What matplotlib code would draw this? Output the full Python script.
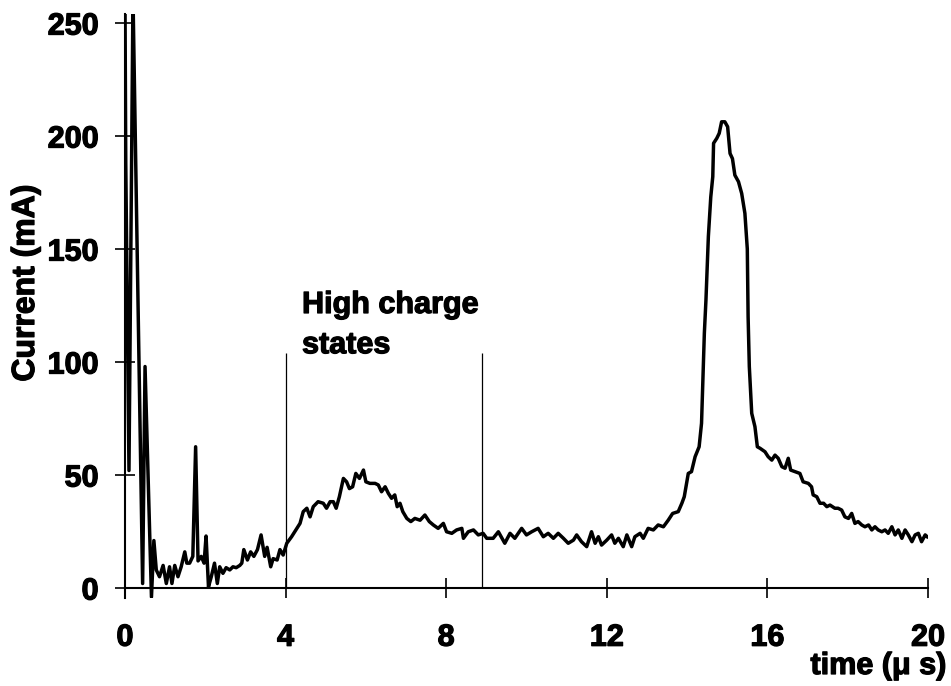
import matplotlib.pyplot as plt
import matplotlib.patheffects as pe

# trace: time in microseconds, current in mA
time_us = [0.00, 0.02, 0.10, 0.20, 0.44, 0.50, 0.66, 0.72, 0.78, 0.86, 0.95, 1.03,
           1.11, 1.17, 1.24, 1.32, 1.40, 1.49, 1.54, 1.61, 1.69, 1.76, 1.82, 1.90,
           1.97, 2.02, 2.08, 2.15, 2.23, 2.30, 2.36, 2.44, 2.52, 2.61, 2.69, 2.77,
           2.86, 2.91, 2.96, 3.05, 3.13, 3.21, 3.30, 3.39, 3.48, 3.54, 3.63, 3.69,
           3.79, 3.86, 3.94, 4.03, 4.15, 4.28, 4.36, 4.44, 4.53, 4.61, 4.69, 4.81,
           4.94, 5.02, 5.11, 5.19, 5.26, 5.34, 5.44, 5.52, 5.59, 5.67, 5.75, 5.84,
           5.94, 6.00, 6.10, 6.23, 6.31, 6.39, 6.48, 6.56, 6.64, 6.72, 6.78, 6.85,
           6.92, 7.02, 7.12, 7.22, 7.35, 7.47, 7.58, 7.68, 7.80, 7.93, 8.01, 8.14,
           8.26, 8.39, 8.43, 8.55, 8.68, 8.80, 8.92, 9.01, 9.17, 9.30, 9.46, 9.59,
           9.71, 9.88, 10.00, 10.13, 10.29, 10.42, 10.54, 10.67, 10.79, 10.92, 11.04,
           11.17, 11.25, 11.37, 11.50, 11.62, 11.71, 11.79, 11.87, 12.00, 12.12,
           12.20, 12.29, 12.41, 12.50, 12.62, 12.70, 12.83, 12.91, 13.03, 13.16,
           13.28, 13.41, 13.53, 13.64, 13.78, 13.87, 13.93, 14.03, 14.11, 14.20,
           14.30, 14.36, 14.39, 14.43, 14.47, 14.53, 14.59, 14.64, 14.66, 14.74,
           14.80, 14.86, 14.94, 15.01, 15.07, 15.13, 15.19, 15.28, 15.36, 15.44,
           15.50, 15.52, 15.55, 15.61, 15.69, 15.75, 15.82, 15.94, 16.02, 16.11,
           16.19, 16.27, 16.36, 16.44, 16.52, 16.58, 16.69, 16.81, 16.89, 17.02,
           17.10, 17.14, 17.23, 17.31, 17.40, 17.48, 17.56, 17.68, 17.76, 17.85,
           17.93, 18.02, 18.10, 18.18, 18.26, 18.35, 18.43, 18.52, 18.60, 18.68,
           18.76, 18.85, 18.93, 19.01, 19.10, 19.18, 19.26, 19.35, 19.43, 19.51,
           19.60, 19.68, 19.76, 19.84, 19.93, 19.98]
current_ma = [262, 188, 52, 262, 2, 98, -4, 21, 8, 5, 10, 2,
              9.4, 2, 10, 5, 9.4, 16, 11, 11, 14, 62.5, 12, 14,
              11, 23, 0.5, 5, 11, 2, 9.4, 6.5, 9, 8, 9.4, 9,
              10, 11, 17, 12.4, 16, 14, 17, 23.5, 14, 18, 9.4, 13,
              12.4, 17, 14.6, 19.8, 22.7, 26.4, 28.6, 33.8, 35.3, 31.5, 36, 38.2,
              37.5, 35.3, 38.2, 38.2, 35.3, 40.4, 48.5, 47, 44, 44.8, 50.7, 48.5,
              52.2, 47, 46.3, 46.3, 45.6, 42.6, 44.8, 41.9, 39.7, 41.2, 36, 37.5,
              33.8, 30.8, 29.4, 30.8, 30, 32.3, 29.4, 27.9, 26.4, 28.6, 24.9, 24.2,
              25.7, 26.4, 22, 24.9, 25.7, 23.5, 24.2, 22, 22, 24.9, 19.8, 24.2,
              22, 26.4, 23.5, 24.9, 26.4, 22.7, 24.2, 22, 24.2, 22, 19.8,
              21.2, 23.5, 20.5, 18.3, 24.9, 19.8, 22.7, 19, 21.2, 23.5,
              19.8, 22, 18.3, 23.5, 18.3, 22.7, 24.2, 22, 26.4, 25.7,
              27.9, 27.1, 30, 33, 33.8, 37.5, 40.4, 50.7, 51.5, 58.1,
              62.5, 72.9, 90.6, 112.7, 127.4, 155.5, 173, 182, 196.8, 199,
              201.2, 206.3, 206.3, 204.1, 192.3, 190, 182.7, 179.8, 174.6, 165.8,
              150, 120, 98, 77.3, 71.4, 62.5, 61.8, 60.3, 58.1, 56.6,
              58.8, 57.4, 53.7, 53, 57.4, 52.2, 51.5, 50.7, 47, 46.3,
              44.8, 41.2, 40.4, 37.5, 37.5, 36, 36.7, 35.3, 35.3, 34.5,
              31.5, 30.8, 33, 28.6, 29.4, 27.9, 27.1, 27.9, 25.7, 27.1,
              25.7, 24.9, 25.7, 24.2, 27.1, 23.5, 25.7, 22, 25.7, 23.5,
              20.5, 23.5, 24.2, 20.5, 23.5, 22.7]

# window of the high charge states
window_times = [4.0, 8.9]
window_top = 104

x_ticks = [0, 4, 8, 12, 16, 20]
y_ticks = [0, 50, 100, 150, 200, 250]

plt.rcParams['font.family'] = ['Liberation Sans', 'DejaVu Sans']
plt.rcParams['font.weight'] = 'bold'

# scanned print looks heavier than plain bold
heavy = [pe.withStroke(linewidth=0.9, foreground='black')]

fig = plt.figure(figsize=(9.51, 6.86), dpi=100)
ax = fig.add_axes([0.1314, 0.128, 0.8444, 0.8516])

ax.plot(time_us, current_ma, color='black', lw=2.5, solid_joinstyle='round')
ax.vlines(window_times, 0, window_top, color='black', lw=0.9)

ax.set_xlim(0, 20)
ax.set_ylim(-4.5, 254)

for side in ['top', 'right']:
    ax.spines[side].set_visible(False)
ax.spines['bottom'].set_position(('data', 0))
ax.spines['left'].set_linewidth(1.5)
ax.spines['bottom'].set_linewidth(1.5)

ax.set_xticks(x_ticks)
ax.set_yticks(y_ticks)
ax.tick_params(axis='both', direction='inout', length=14, width=1.2,
               labelsize=22)
ax.tick_params(axis='x', pad=18)
ax.tick_params(axis='y', pad=12)
for lab in ax.get_xticklabels() + ax.get_yticklabels():
    lab.set_path_effects(heavy)

ax.text(4.41, 121.7, "High charge", fontsize=22, fontweight='bold',
        ha='left', va='baseline', path_effects=heavy)
ax.text(4.41, 103.9, "states", fontsize=22, fontweight='bold',
        ha='left', va='baseline', path_effects=heavy)

fig.text(26 / 951, 1 - 283 / 686, "Current (mA)", rotation=90, fontsize=23,
         fontweight='bold', ha='center', va='center', path_effects=heavy)
fig.text(946 / 951, 1 - 666 / 686, "time (\u03bc s)", fontsize=22,
         fontweight='bold', ha='right', va='center', path_effects=heavy)

fig.savefig('out.png', dpi=100)
